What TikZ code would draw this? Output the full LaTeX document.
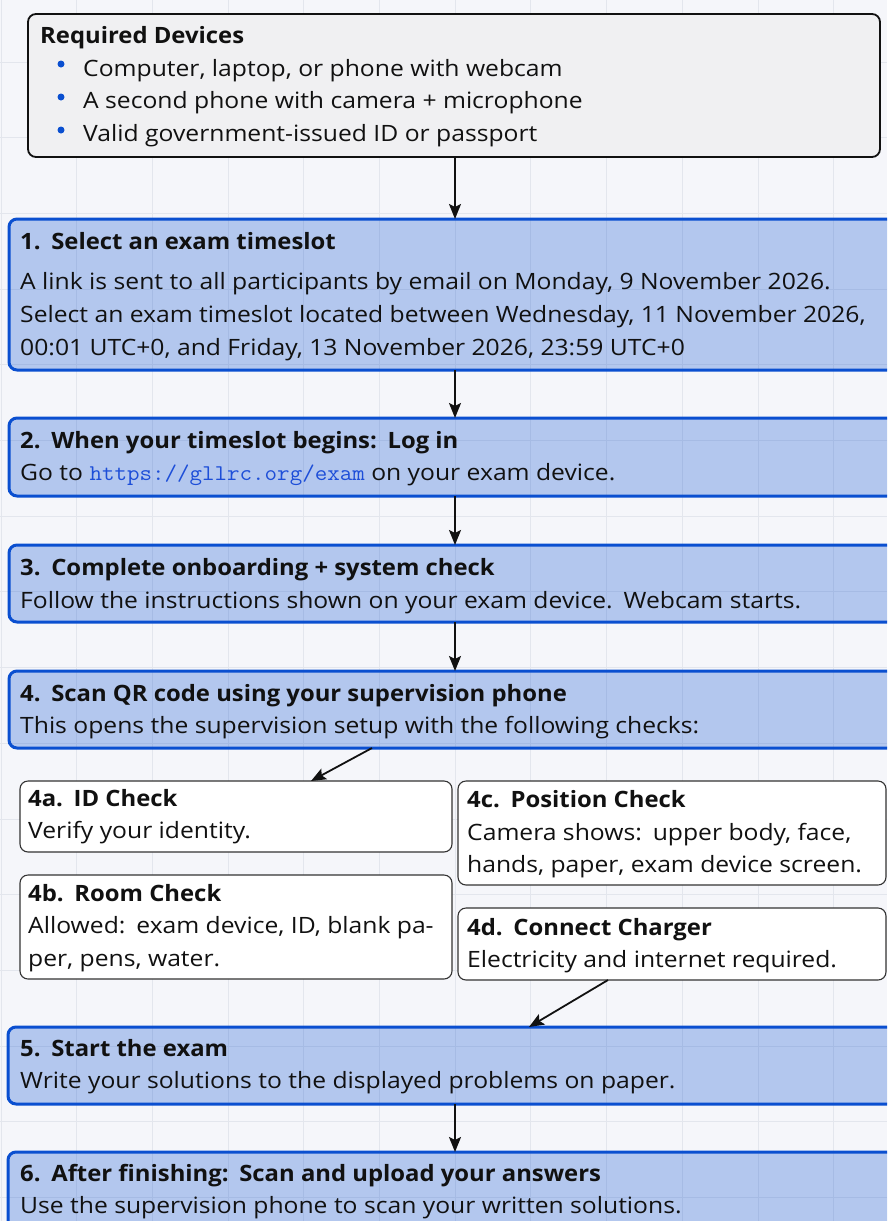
\documentclass[tikz,border=0pt]{standalone}
\usepackage{fontspec}
\usepackage{graphicx}
\setmainfont{Open Sans}[FakeStretch=1.097, BoldFeatures={FakeStretch=1.06}]
\usetikzlibrary{arrows.meta}
\definecolor{bg}{HTML}{F5F6FA}
\definecolor{gridc}{HTML}{E3E6ED}
\definecolor{blueb}{HTML}{0A4FD0}
\definecolor{topfill}{HTML}{F0F0F2}
\definecolor{linkc}{HTML}{1D4ED8}
\definecolor{ink}{HTML}{111111}
\definecolor{wborder}{HTML}{333333}
\newcommand{\mywidepunct}{\fontdimen7\font=4.5pt\relax}
\newcommand{\myregfont}{\fontsize{22.5}{32}\selectfont\mywidepunct}
\newcommand{\myboldfont}{\fontsize{22.5}{32}\selectfont\bfseries\mywidepunct}
\begin{document}
\begin{tikzpicture}[x=1pt,y=-1pt,
  stepbox/.style={draw=blueb, line width=3pt, fill=blueb, fill opacity=0.28, rounded corners=8pt, inner sep=0pt, outer sep=0pt, anchor=north west},
  topbox/.style={draw=ink, line width=1.8pt, fill=topfill, rounded corners=8pt, inner sep=0pt, outer sep=0pt, anchor=north west},
  subbox/.style={draw=wborder, line width=1.1pt, fill=white, rounded corners=8pt, inner sep=0pt, outer sep=0pt, anchor=north west},
  txt/.style={anchor=base west, inner sep=0pt, text=ink, font=\myregfont},
  ttl/.style={anchor=base west, inner sep=0pt, text=ink, font=\myboldfont},
  dot/.style={circle, fill=blueb, inner sep=0pt, minimum size=7pt},
  arr/.style={draw=ink, line width=1.8pt, -{Stealth[length=15pt, width=12pt, inset=3pt]}}
]
\useasboundingbox (0,0) rectangle (887,1221);
\clip (0,0) rectangle (887,1221);
\fill[bg] (0,0) rectangle (887,1221);
\foreach \i in {0,...,12} {\draw[gridc, line width=1pt] (1+75.7*\i,0) -- (1+75.7*\i,1221);}
\foreach \j in {-1,...,15} {\draw[gridc, line width=1pt] (0,62+75.7*\j) -- (887,62+75.7*\j);}

% boxes
\node[topbox, minimum width=852pt, minimum height=143pt] (req) at (28,14) {};
\node[stepbox, minimum width=900pt, minimum height=151pt] (s1) at (9,219) {};
\node[stepbox, minimum width=900pt, minimum height=78pt] (s2) at (9,418) {};
\node[stepbox, minimum width=900pt, minimum height=77pt] (s3) at (9,545) {};
\node[stepbox, minimum width=900pt, minimum height=77pt] (s4) at (9,671) {};
\node[subbox, minimum width=432pt, minimum height=71pt] (ca) at (20,781) {};
\node[subbox, minimum width=432pt, minimum height=104pt] (cb) at (20,875) {};
\node[subbox, minimum width=428pt, minimum height=104pt] (cc) at (458,781) {};
\node[subbox, minimum width=428pt, minimum height=72pt] (cd) at (458,908) {};
\node[stepbox, minimum width=900pt, minimum height=77pt] (s5) at (8,1027) {};
\node[stepbox, minimum width=900pt, minimum height=100pt] (s6) at (8,1152) {};

% texts
\node[ttl] (reqt) at (40,43) {Required Devices};
\node[dot] (d1) at (61,64) {};
\node[dot] (d2) at (61,97) {};
\node[dot] (d3) at (61,130) {};
\node[txt] (r1) at (83,76) {Computer, laptop, or phone with webcam};
\node[txt] (r2) at (83,108) {A second phone with camera + microphone};
\node[txt] (r3) at (83,141) {Valid government-issued ID or passport};

\node[ttl] (s1t) at (20,249) {1. Select an exam timeslot};
\node[txt] (s1a) at (20,289) {A link is sent to all participants by email on Monday, 9 November 2026.};
\node[txt] (s1b) at (20,322) {Select an exam timeslot located between Wednesday, 11 November 2026,};
\node[txt] (s1c) at (20,355) {00:01 UTC+0, and Friday, 13 November 2026, 23:59 UTC+0};

\node[ttl] (s2t) at (20,448) {2. When your timeslot begins: Log in};
\node[txt] (s2a) at (20,480) {Go to {\ttfamily\color{linkc}\scalebox{1.08}[1]{https://gllrc.org/exam}} on your exam device.};

\node[ttl] (s3t) at (20,575) {3. Complete onboarding + system check};
\node[txt] (s3a) at (20,608) {Follow the instructions shown on your exam device. Webcam starts.};

\node[ttl] (s4t) at (20,701) {4. Scan QR code using your supervision phone};
\node[txt] (s4a) at (20,733) {This opens the supervision setup with the following checks:};

\node[ttl] (cat) at (28,806) {4a. ID Check};
\node[txt] (caa) at (28,838) {Verify your identity.};
\node[ttl] (cbt) at (28,901) {4b. Room Check};
\node[txt] (cba) at (28,933) {Allowed: exam device, ID, blank pa-};
\node[txt] (cbb) at (28,966) {per, pens, water.};
\node[ttl] (cct) at (467,807) {4c. Position Check};
\node[txt] (cca) at (467,840) {Camera shows: upper body, face,};
\node[txt] (ccb) at (467,872) {hands, paper, exam device screen.};
\node[ttl] (cdt) at (467,935) {4d. Connect Charger};
\node[txt] (cda) at (467,967) {Electricity and internet required.};

\node[ttl] (s5t) at (20,1056) {5. Start the exam};
\node[txt] (s5a) at (20,1088) {Write your solutions to the displayed problems on paper.};
\node[ttl] (s6t) at (20,1181) {6. After finishing: Scan and upload your answers};
\node[txt] (s6a) at (20,1213) {Use the supervision phone to scan your written solutions.};

% connectors
\coordinate (mx) at (455,0);
\coordinate (p4) at (372,0);
\coordinate (pa) at (311,0);
\coordinate (pd) at (608,0);
\coordinate (p5) at (529,0);
\draw[arr] (req.south -| mx) -- (s1.north -| mx);
\draw[arr] (s1.south -| mx) -- (s2.north -| mx);
\draw[arr] (s2.south -| mx) -- (s3.north -| mx);
\draw[arr] (s3.south -| mx) -- (s4.north -| mx);
\draw[arr] (s4.south -| p4) -- (ca.north -| pa);
\draw[arr] (cd.south -| pd) -- (s5.north -| p5);
\draw[arr] (s5.south -| mx) -- (s6.north -| mx);
\end{tikzpicture}
\end{document}
